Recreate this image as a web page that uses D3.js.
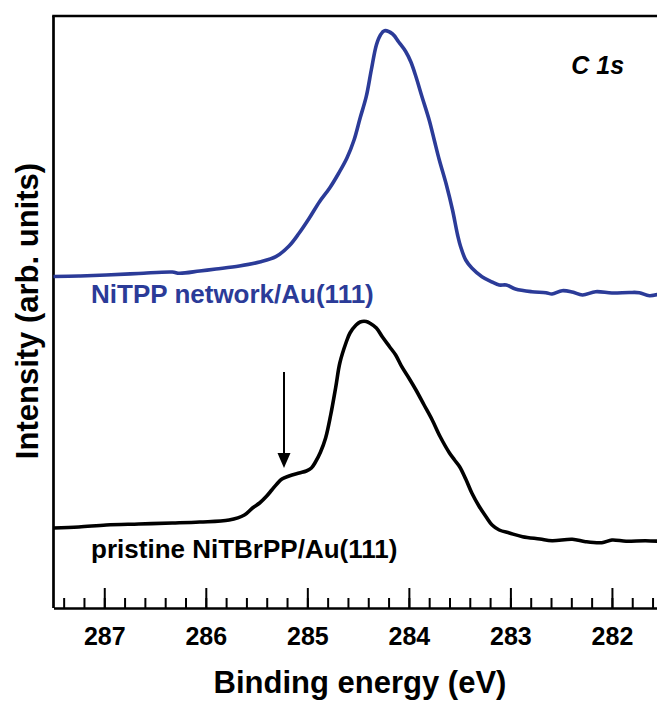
<!DOCTYPE html>
<html lang="en">
<head>
    <meta charset="UTF-8">
    <title>C 1s XPS spectra</title>
    <script src="https://cdnjs.cloudflare.com/ajax/libs/d3/7.8.5/d3.min.js"></script>
    <style>
        html, body { margin: 0; padding: 0; background: #fff; }
        svg text { font-family: "Liberation Sans", Arial, Helvetica, sans-serif; font-weight: bold; }
    </style>
</head>
<body>
    <div id="chart"></div>
    <script>
        // Binding energy (eV) and intensity (arb. units)
        const energyNetwork = [287.5, 287.25, 286.98, 286.66, 286.33, 286.26, 286.06, 285.90, 285.67, 285.47,
            285.31, 285.18, 285.08, 284.98, 284.88, 284.78, 284.69, 284.61, 284.54, 284.48,
            284.42, 284.37, 284.32, 284.28, 284.24, 284.16, 284.10, 284.03, 283.98, 283.93,
            283.87, 283.80, 283.75, 283.70, 283.63, 283.57, 283.52, 283.49, 283.44, 283.38,
            283.28, 283.18, 283.11, 283.04, 282.95, 282.79, 282.65, 282.59, 282.49, 282.39,
            282.29, 282.16, 282.00, 281.83, 281.73, 281.63, 281.5];
        const intensityNetwork = [331.5, 332, 333, 334.5, 336, 334.7, 337, 339, 342, 346,
            351.3, 362, 375, 390, 406.3, 420, 435, 450, 468, 490,
            511.3, 538, 563, 573, 577.3, 574, 566, 556.3, 546, 531.3,
            511, 488, 468, 448, 423, 398, 373, 361.3, 348, 340,
            331.3, 326, 323, 323, 319, 316.3, 315.3, 314, 317.3, 316,
            313, 316.3, 315, 315.5, 315.3, 312.3, 315];

        const energyPristine = [287.5, 287.25, 286.98, 286.66, 286.33, 286.06, 285.77, 285.62, 285.54, 285.47,
            285.40, 285.35, 285.30, 285.25, 285.18, 285.08, 285.01, 284.96, 284.92, 284.87,
            284.82, 284.77, 284.72, 284.68, 284.62, 284.58, 284.52, 284.48, 284.42, 284.38,
            284.32, 284.26, 284.19, 284.13, 284.07, 284.00, 283.93, 283.85, 283.77, 283.69,
            283.60, 283.55, 283.50, 283.44, 283.38, 283.31, 283.24, 283.18, 283.11, 283.01,
            282.88, 282.71, 282.59, 282.39, 282.26, 282.10, 282.00, 281.86, 281.67, 281.5];
        const intensityPristine = [80, 81, 83, 84, 85, 86, 88, 93, 100, 105,
            112, 118, 124, 129, 132, 135, 137, 140, 146, 156,
            170, 193, 221, 245, 265, 275, 283, 286, 286.5, 284.5,
            280, 271, 261.3, 253, 241.3, 230, 218, 203, 188, 171,
            155, 148, 141.3, 129, 115, 102, 91.3, 83, 78, 75,
            71.3, 69, 67.3, 68.7, 66.3, 65.3, 68, 66.7, 67.3, 66.5];

        const majorTicks = [287, 286, 285, 284, 283, 282];
        const minorTicks = d3.range(281.6, 287.5, 0.2);

        const width = 657;
        const height = 702;

        const svg = d3.select("#chart").append("svg")
            .attr("width", width)
            .attr("height", height);

        svg.append("rect").attr("width", width).attr("height", height).attr("fill", "#fff");

        const x = d3.scaleLinear()
            .domain([287.5, 281.5])
            .range([53.5, 662.7]);

        const y = d3.scaleLinear()
            .domain([0, 592])
            .range([608, 16]);

        // minor ticks first, then major with labels
        svg.append("g")
            .attr("transform", `translate(0,${y(0)})`)
            .call(d3.axisBottom(x).tickValues(minorTicks).tickSize(-10).tickFormat(""))
            .call(g => g.select(".domain").remove())
            .call(g => g.selectAll("line").attr("stroke", "#000").attr("stroke-width", 2));

        const xAxis = svg.append("g")
            .attr("transform", `translate(0,${y(0)})`)
            .call(d3.axisBottom(x).tickValues(majorTicks).tickSizeInner(-20).tickSizeOuter(0)
                .tickPadding(19).tickFormat(d3.format("d")));
        xAxis.select(".domain").attr("stroke", "#000").attr("stroke-width", 2.7);
        xAxis.selectAll("line").attr("stroke", "#000").attr("stroke-width", 2);
        xAxis.selectAll("text")
            .attr("fill", "#000")
            .style("font-size", "25px")
            .style("font-family", '"Liberation Sans", Arial, sans-serif')
            .style("font-weight", "bold");

        // frame: left and top
        svg.append("line")
            .attr("x1", x(287.5)).attr("x2", x(287.5))
            .attr("y1", y(592)).attr("y2", y(0))
            .attr("stroke", "#000").attr("stroke-width", 2.7);
        svg.append("line")
            .attr("x1", x(287.5) - 1.3).attr("x2", x(281.5))
            .attr("y1", y(592)).attr("y2", y(592))
            .attr("stroke", "#000").attr("stroke-width", 2.7);

        const line = d3.line()
            .x(d => x(d[0]))
            .y(d => y(d[1]))
            .curve(d3.curveCatmullRom.alpha(0.5));

        svg.append("path")
            .datum(d3.zip(energyNetwork, intensityNetwork))
            .attr("fill", "none")
            .attr("stroke", "#2b3b98")
            .attr("stroke-width", 3.6)
            .attr("stroke-linejoin", "round")
            .attr("d", line);

        svg.append("path")
            .datum(d3.zip(energyPristine, intensityPristine))
            .attr("fill", "none")
            .attr("stroke", "#000")
            .attr("stroke-width", 3.6)
            .attr("stroke-linejoin", "round")
            .attr("d", line);

        // shoulder arrow
        const arrowE = 285.23;
        svg.append("line")
            .attr("x1", x(arrowE)).attr("x2", x(arrowE))
            .attr("y1", y(236)).attr("y2", y(152))
            .attr("stroke", "#000").attr("stroke-width", 2);
        svg.append("path")
            .attr("d", `M${x(arrowE)},${y(140)} L${x(arrowE) - 6.5},${y(155)} L${x(arrowE) + 6.5},${y(155)} Z`)
            .attr("fill", "#000");

        // labels
        svg.append("text")
            .attr("x", x(287.13)).attr("y", y(305))
            .attr("fill", "#2b3b98")
            .style("font-size", "26px")
            .text("NiTPP network/Au(111)");

        svg.append("text")
            .attr("x", x(287.13)).attr("y", y(50))
            .attr("fill", "#000")
            .style("font-size", "26px")
            .text("pristine NiTBrPP/Au(111)");

        svg.append("text")
            .attr("x", x(282.40)).attr("y", y(534))
            .attr("fill", "#000")
            .style("font-size", "25px")
            .style("font-style", "italic")
            .text("C 1s");

        svg.append("text")
            .attr("transform", `translate(38,${y(297)}) rotate(-90)`)
            .attr("text-anchor", "middle")
            .attr("fill", "#000")
            .style("font-size", "31px")
            .text("Intensity (arb. units)");

        svg.append("text")
            .attr("x", 360).attr("y", 693)
            .attr("text-anchor", "middle")
            .attr("fill", "#000")
            .style("font-size", "31px")
            .text("Binding energy (eV)");
    </script>
</body>
</html>
